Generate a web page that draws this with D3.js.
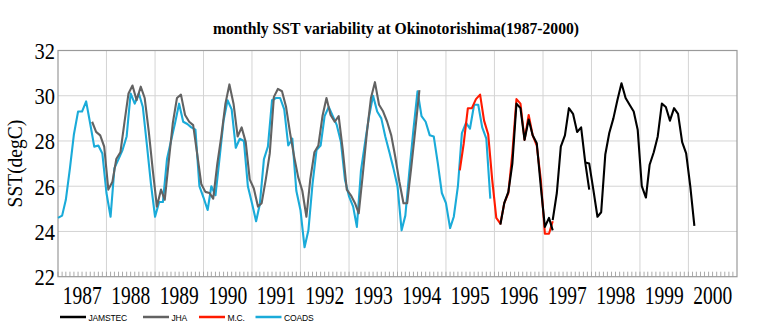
<!doctype html>
<html>
<head>
  <meta charset="utf-8">
  <title>monthly SST variability at Okinotorishima</title>
  <script src="https://cdnjs.cloudflare.com/ajax/libs/d3/7.8.5/d3.min.js"></script>
  <style>
    body { margin: 0; background: #fff; }
    .serif { font-family: "Liberation Serif", "Times New Roman", serif; }
    .sans { font-family: "Liberation Sans", Arial, sans-serif; }
  </style>
</head>
<body>
<div id="chart"></div>
<script>
// monthly SST (degC); each record starts at [year, monthIndex]
const coadsStart = [1987, 0];
const coads = [
  24.6, 24.7, 25.4, 26.8, 28.3, 29.3, 29.3, 29.75, 28.75, 27.75, 27.8, 27.45,
  25.7, 24.65, 26.8, 27.2, 27.6, 28.2, 30.1, 29.65, 30.1, 29.5, 27.8, 26.1,
  24.65, 25.3, 25.3, 27.2, 28.0, 28.8, 29.65, 28.85, 28.75, 28.6, 28.5, 26.0,
  25.5, 24.95, 26.0, 25.6, 27.2, 28.9, 29.8, 29.4, 27.7, 28.1, 28.0, 26.0,
  25.25, 24.45, 25.2, 27.2, 27.75, 29.8, 29.9, 29.9, 29.4, 27.8, 28.1, 25.8,
  24.95, 23.3, 24.05, 26.1, 27.6, 27.8, 29.1, 29.5, 29.1, 28.7, 27.95, 26.3,
  25.55, 25.1, 24.2, 26.7, 27.9, 29.1, 30.0, 29.3, 29.0, 28.2, 27.5, 26.8,
  26.0, 24.05, 24.7, 26.7, 28.5, 30.2, 29.1, 28.85, 28.25, 28.2, 27.0, 25.7,
  25.25, 24.15, 24.65, 26.0, 28.35, 28.8, 28.55, 29.6, 29.6, 28.6, 28.1, 25.45
];

const jhaStart = [1987, 8];
const jha = [
  28.85, 28.4, 28.25, 27.75,
  25.85, 26.2, 27.2, 27.5, 28.8, 30.1, 30.45, 29.8, 30.4, 29.9, 28.4, 26.7,
  25.1, 25.85, 25.4, 27.15, 28.8, 29.9, 30.05, 29.15, 28.85, 28.7, 27.4, 26.1,
  25.75, 25.7, 25.45, 27.0, 28.2, 29.65, 30.5, 29.65, 28.2, 28.6, 27.95, 26.3,
  25.9, 25.1, 25.25, 26.3, 27.45, 29.95, 30.3, 30.2, 29.5, 28.35, 27.3, 26.4,
  25.8, 24.65, 26.3, 27.5, 27.8, 29.1, 29.9, 29.15, 28.85, 29.1, 27.6, 25.85,
  25.6, 25.25, 24.8, 26.55, 28.35, 29.9, 30.6, 29.6, 29.3, 28.85, 28.25, 27.3,
  26.2, 25.25, 25.25, 26.85, 28.5, 30.25
];

const mcStart = [1995, 3];
const mc = [
  26.7, 27.9, 29.45, 29.45, 29.85, 30.05, 28.9, 28.3, 26.3,
  24.6, 24.35, 25.25, 25.7, 27.45, 29.85, 29.65, 28.05, 29.15, 28.25, 27.8, 26.3,
  23.9, 23.9, 24.45
];

// JAMSTEC buoy records (three deployments, overlapping at the joins)
const jamstecStartA = [1996, 1];
const jamstecA = [
  24.3, 25.25, 25.75, 27.0, 29.65, 29.45, 28.05, 28.95, 28.25, 27.9, 26.0,
  24.2, 24.6, 24.05
];
const jamstecStartB = [1997, 2];
const jamstecB = [24.5, 25.7, 27.75, 28.25, 29.45, 29.2, 28.4, 28.6, 27.05, 25.85];
const jamstecStartC = [1997, 10];
const jamstecC = [
  27.05, 27.0,
  25.85, 24.65, 24.85, 27.4, 28.35, 29.0, 29.8, 30.55, 29.9, 29.6, 29.3, 28.5,
  26.0, 25.5, 26.95, 27.5, 28.2, 29.65, 29.5, 28.9, 29.45, 29.2, 27.95, 27.45,
  26.0, 24.25
];

const yTicks = [22, 24, 26, 28, 30, 32];
const years = d3.range(1987, 2001);

// draw order: COADS underneath, JAMSTEC on top
const series = [
  { name: "COADS",   color: "#1aabd9", day: 1,  records: [[coadsStart, coads]] },
  { name: "JHA",     color: "#626262", day: 15, records: [[jhaStart, jha]] },
  { name: "M.C.",    color: "#ff1a00", day: 15, records: [[mcStart, mc]] },
  { name: "JAMSTEC", color: "#000000", day: 15,
    records: [[jamstecStartA, jamstecA], [jamstecStartB, jamstecB], [jamstecStartC, jamstecC]] }
];
const legendOrder = ["JAMSTEC", "JHA", "M.C.", "COADS"];
const legendX = [60, 143, 199, 255.5];

const width = 766, height = 329;
const margin = { top: 50.5, right: 29, bottom: 52.3, left: 58 };

const svg = d3.select("#chart").append("svg")
  .attr("width", width)
  .attr("height", height);

const x = d3.scaleTime()
  .domain([new Date(1987, 0, 1), new Date(2001, 0, 1)])
  .range([margin.left, width - margin.right]);

const y = d3.scaleLinear()
  .domain([22, 32])
  .range([height - margin.bottom, margin.top]);

const x0 = x.range()[0], x1 = x.range()[1];
const y0 = y.range()[0], y1 = y.range()[1];

// grid
svg.append("g")
  .selectAll("line.h")
  .data(yTicks.slice(1, -1))
  .join("line")
  .attr("x1", x0).attr("x2", x1)
  .attr("y1", d => y(d)).attr("y2", d => y(d))
  .attr("stroke", "#d4d4d4").attr("stroke-width", 1);

svg.append("g")
  .selectAll("line.v")
  .data(years.slice(1))
  .join("line")
  .attr("x1", d => x(new Date(d, 0, 1))).attr("x2", d => x(new Date(d, 0, 1)))
  .attr("y1", y1).attr("y2", y0)
  .attr("stroke", "#d4d4d4").attr("stroke-width", 1);

// month ticks along the bottom
svg.append("g")
  .selectAll("line")
  .data(d3.timeMonth.range(new Date(1987, 0, 1), new Date(2001, 0, 1)))
  .join("line")
  .attr("x1", d => x(d)).attr("x2", d => x(d))
  .attr("y1", y0).attr("y2", y0 - 5)
  .attr("stroke", "#aaa").attr("stroke-width", 1);

// frame
svg.append("rect")
  .attr("x", x0).attr("y", y1)
  .attr("width", x1 - x0).attr("height", y0 - y1)
  .attr("fill", "none")
  .attr("stroke", "#9a9a9a").attr("stroke-width", 1.2);

// series
const line = d3.line()
  .x(d => x(d.date))
  .y(d => y(d.value));

series.forEach(s => {
  s.records.forEach(([start, values]) => {
    const pts = values.map((v, i) => ({
      date: new Date(start[0], start[1] + i, s.day),
      value: v
    }));
    svg.append("path")
      .datum(pts)
      .attr("fill", "none")
      .attr("stroke", s.color)
      .attr("stroke-width", 2.1)
      .attr("stroke-linejoin", "round")
      .attr("d", line);
  });
});

// y tick labels (the face is drawn a little tall and narrow)
svg.append("g")
  .selectAll("text")
  .data(yTicks)
  .join("text")
  .attr("class", "serif")
  .attr("transform", d => `translate(${x0 - 3},${y(d) + 8.5}) scale(1,1.12)`)
  .attr("text-anchor", "end")
  .attr("font-size", 20.5)
  .text(d => d);

// year labels, centred in each year
svg.append("g")
  .selectAll("text")
  .data(years)
  .join("text")
  .attr("class", "serif")
  .attr("transform", d => {
    const cx = (x(new Date(d, 0, 1)) + x(new Date(d + 1, 0, 1))) / 2;
    return `translate(${cx},303.5) scale(1,1.3)`;
  })
  .attr("text-anchor", "middle")
  .attr("font-size", 19.5)
  .text(d => d);

// axis title
svg.append("text")
  .attr("class", "serif")
  .attr("transform", `translate(22,${(y0 + y1) / 2}) rotate(-90) scale(1,1.12)`)
  .attr("text-anchor", "middle")
  .attr("font-size", 19.5)
  .text("SST(degC)");

// title
svg.append("text")
  .attr("class", "serif")
  .attr("transform", "translate(396,33.5) scale(0.98,1.08)")
  .attr("text-anchor", "middle")
  .attr("font-size", 16)
  .attr("font-weight", "bold")
  .text("monthly SST variability at Okinotorishima(1987-2000)");

// legend
const legend = svg.append("g");
legendOrder.forEach((name, i) => {
  const s = series.find(d => d.name === name);
  const g = legend.append("g").attr("transform", `translate(${legendX[i]},317)`);
  g.append("line")
    .attr("x1", 0).attr("x2", 26)
    .attr("stroke", s.color).attr("stroke-width", 2.5);
  g.append("text")
    .attr("class", "sans")
    .attr("transform", "translate(28.5,3.5) scale(0.95,1.1)")
    .attr("font-size", 9)
    .attr("letter-spacing", -0.2)
    .text(name);
});
</script>
</body>
</html>
